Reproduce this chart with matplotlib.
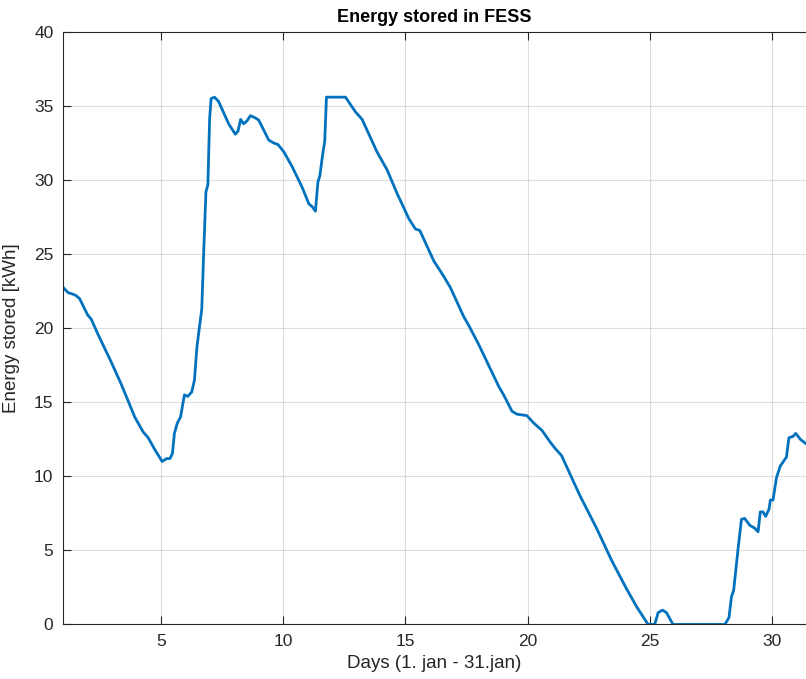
import matplotlib
matplotlib.use('Agg')
import matplotlib.pyplot as plt

plt.rcParams['font.family'] = ['Liberation Sans', 'DejaVu Sans']

# energy stored in the flywheel (days, kWh)
days = [1.0, 1.2, 1.4, 1.53, 1.67, 2.0, 2.15, 2.42, 2.97, 3.38, 3.93, 4.27, 4.48,
        4.75, 5.05, 5.23, 5.37, 5.47, 5.55, 5.67, 5.8, 5.96, 6.1, 6.26, 6.37,
        6.47, 6.56, 6.67, 6.75, 6.84, 6.92, 6.99, 7.05, 7.19, 7.36, 7.77, 8.04,
        8.15, 8.26, 8.38, 8.52, 8.66, 8.86, 9.0, 9.41, 9.62, 9.79, 10.03, 10.37,
        10.78, 11.05, 11.19, 11.32, 11.42, 11.5, 11.63, 11.7, 11.77, 12.55,
        12.96, 13.23, 13.84, 14.25, 14.66, 15.14, 15.41, 15.59, 16.16, 16.57,
        16.84, 17.38, 17.59, 18.0, 18.81, 19.02, 19.36, 19.56, 19.97, 20.25,
        20.59, 20.93, 21.12, 21.39, 22.14, 22.82, 23.43, 24.05, 24.46, 24.93,
        25.2, 25.34, 25.52, 25.68, 25.95, 28.07, 28.24, 28.34, 28.43, 28.61,
        28.75, 28.88, 29.09, 29.29, 29.43, 29.52, 29.63, 29.74, 29.88, 29.93,
        30.04, 30.18, 30.34, 30.59, 30.69, 30.86, 30.97, 31.16, 31.39]
energy = [22.75, 22.4, 22.3, 22.2, 22.0, 20.9, 20.6, 19.6, 17.7, 16.2, 14.0, 13.0, 12.6,
          11.8, 11.0, 11.2, 11.2, 11.55, 12.9, 13.6, 14.0, 15.5, 15.4, 15.7, 16.5,
          18.7, 19.9, 21.3, 25.2, 29.2, 29.7, 34.1, 35.5, 35.6, 35.3, 33.8, 33.1,
          33.3, 34.1, 33.8, 34.0, 34.35, 34.2, 34.05, 32.7, 32.5, 32.4, 31.9, 30.9,
          29.5, 28.4, 28.2, 27.9, 29.85, 30.3, 31.9, 32.6, 35.6, 35.6,
          34.6, 34.1, 31.9, 30.7, 29.1, 27.4, 26.7, 26.6, 24.55, 23.5,
          22.75, 20.8, 20.2, 18.9, 16.1, 15.5, 14.4, 14.2, 14.1, 13.6,
          13.1, 12.3, 11.9, 11.4, 8.7, 6.5, 4.35, 2.4, 1.2, 0.0,
          0.0, 0.8, 0.97, 0.8, 0.0, 0.0, 0.47, 1.87, 2.3, 5.1,
          7.1, 7.16, 6.7, 6.5, 6.26, 7.6, 7.6, 7.3, 7.8, 8.4,
          8.4, 9.9, 10.7, 11.3, 12.6, 12.7, 12.9, 12.5, 12.2]

xticks = [5, 10, 15, 20, 25, 30]
yticks = [0, 5, 10, 15, 20, 25, 30, 35, 40]

fig = plt.figure(figsize=(8.06, 6.79), dpi=100)
ax = fig.add_axes([0.0784, 0.0803, 0.9216, 0.8726])

ax.plot(days, energy, color='#0072BD', lw=2.0, solid_joinstyle='round')

ax.set_xlim(1, 31.39)
ax.set_ylim(0, 40)
ax.set_xticks(xticks)
ax.set_yticks(yticks)
ax.grid(True, color='#262626', alpha=0.15, lw=0.8)
ax.set_axisbelow(True)
# image is cut at the right, so no right-hand spine shows
ax.tick_params(direction='in', length=6, width=0.8, colors='#262626',
               labelsize=12.5, top=True, right=False, pad=7)
for s in ax.spines.values():
    s.set_color('#262626')
    s.set_linewidth(0.8)
ax.spines['right'].set_visible(False)

ax.set_xlabel('Days (1. jan - 31.jan)', fontsize=13.5, color='#262626', labelpad=4)
ax.set_ylabel('Energy stored [kWh]', fontsize=13.5, color='#262626', labelpad=10)
ax.set_title('Energy stored in FESS', fontsize=13, fontweight='bold', pad=7)

fig.savefig('out.png', dpi=100)
